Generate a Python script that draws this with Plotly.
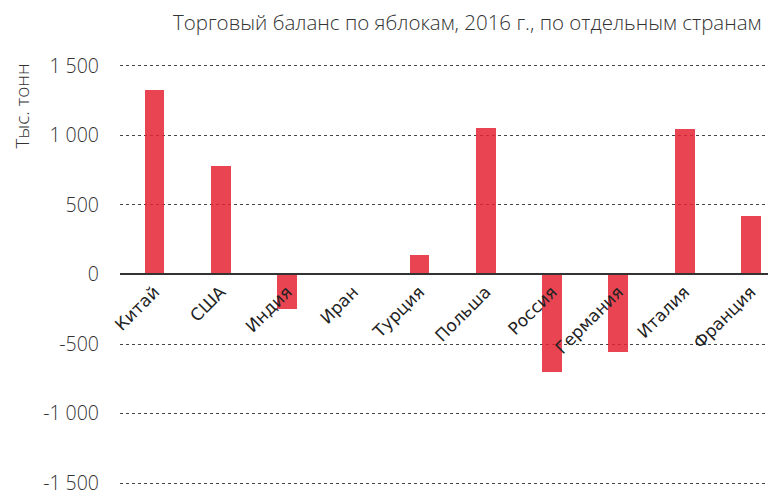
import plotly.graph_objects as go

countries = ["Китай", "США", "Индия", "Иран", "Турция", "Польша", "Россия", "Германия", "Италия", "Франция"]
balance = [1326, 781, -250, 0, 139, 1052, -703, -557, 1043, 422]
y_tickvals = [1500, 1000, 500, 0, -500, -1000, -1500]
y_ticktext = ["1 500", "1 000", "500", "0", "-500", "-1 000", "-1 500"]
title_text = "Торговый баланс по яблокам, 2016 г., по отдельным странам"
y_title = "Тыс. тонн"

# page body has an 8px default margin, so figure coords are window coords - 8
OFF = 8
W, H = 776, 492
L = 120 - OFF
T = 59 - OFF
R = W - (776 - OFF)
B = H - (490 - OFF)
pw, ph = W - L - R, H - T - B

def px_x(x):
    return (x - OFF - L) / pw

def px_y(y):
    return (H - B - (y - OFF)) / ph

fig = go.Figure()
fig.add_trace(go.Bar(
    x=list(range(len(countries))),
    y=balance,
    width=0.3,
    marker=dict(color="rgba(228,35,50,0.85)", line=dict(width=0)),
    showlegend=False,
))

fig.update_layout(
    width=W, height=H,
    margin=dict(l=L, r=R, t=T, b=B, autoexpand=False),
    paper_bgcolor="white",
    plot_bgcolor="white",
    bargap=0,
    font=dict(family="Open Sans", color="#333333"),
    xaxis=dict(
        range=[-0.52, 9.38],
        tickmode="array",
        tickvals=list(range(len(countries))),
        ticktext=countries,
        tickangle=-45,
        tickfont=dict(family="DejaVu Sans", size=17, color="#222222"),
        anchor="free",
        position=px_y(274.3),
        showline=True,
        linecolor="#333333",
        linewidth=2,
        showgrid=False,
        zeroline=False,
        ticks="",
    ),
    yaxis=dict(
        range=[-1550, 1550],
        tickmode="array",
        tickvals=y_tickvals,
        ticktext=y_ticktext,
        tickfont=dict(family="Open Sans", size=19.5, color="#333333", weight=300),
        ticklabelstandoff=20,
        showgrid=True,
        gridcolor="#444444",
        griddash="dot",
        gridwidth=1,
        zeroline=False,
        showline=False,
        ticks="",
    ),
    annotations=[
        dict(
            text=title_text, xref="paper", yref="paper",
            x=px_x(763), y=px_y(22), xanchor="right", yanchor="middle",
            showarrow=False, font=dict(family="Open Sans", size=20.5, color="#333333", weight=300),
        ),
        dict(
            text=y_title, xref="paper", yref="paper",
            x=px_x(21), y=px_y(62), xanchor="center", yanchor="top",
            textangle=-90, showarrow=False,
            font=dict(family="Open Sans", size=19, color="#333333", weight=300),
        ),
    ],
)

fig.write_html("out.html")
